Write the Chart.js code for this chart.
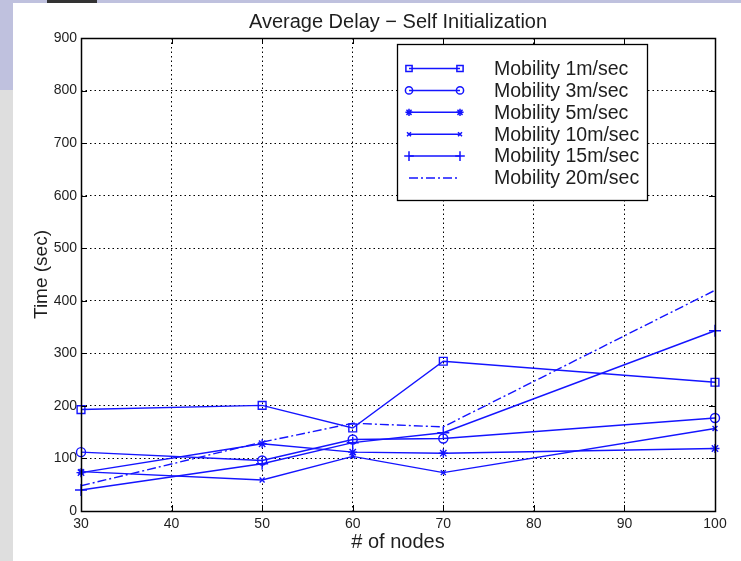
<!DOCTYPE html>
<html><head><meta charset="utf-8">
<script src="https://cdn.jsdelivr.net/npm/chart.js@4.4.0/dist/chart.umd.min.js"></script>
<style>
html,body{margin:0;padding:0;background:#fff;}
#wrap{position:relative;width:741px;height:561px;overflow:hidden;background:#fff;}
.bg{position:absolute;}
canvas{position:absolute;left:0;top:0;}
</style></head><body>
<div id="wrap">
<div class="bg" style="left:0;top:0;width:741px;height:3px;background:#bfc1de"></div>
<div class="bg" style="left:0;top:0;width:13px;height:90px;background:#bfc1de"></div>
<div class="bg" style="left:0;top:90px;width:13px;height:471px;background:#dedede"></div>
<div class="bg" style="left:47px;top:0;width:50px;height:3px;background:#333"></div>
<canvas id="c" width="741" height="561"></canvas>
</div>
<script>
// ---- data ----
const nodes = [30, 50, 60, 70, 100];
const mob1  = [193, 201, 158, 285, 245];
const mob3  = [112, 96, 136, 138, 177];
const mob5  = [73, 128, 112, 110, 119];
const mob10 = [75, 59, 104, 73, 157];
const mob15 = [40, 90, 130, 149, 343];
const mob20 = [48, 131, 167, 160, 420];
const seriesLabels = ['Mobility 1m/sec','Mobility 3m/sec','Mobility 5m/sec','Mobility 10m/sec','Mobility 15m/sec','Mobility 20m/sec'];
const xTicks = [30, 40, 50, 60, 70, 80, 90, 100];
const yTicks = [0, 100, 200, 300, 400, 500, 600, 700, 800, 900];
const titleText = 'Average Delay \u2212 Self Initialization';
const xTitle = '# of nodes';
const yTitle = 'Time (sec)';

const FONT = '"Liberation Sans", Arial, Helvetica, sans-serif';
const BLUE = '#1414ff';
const TXT = '#1e1e1e';

const seriesValues = [mob1, mob3, mob5, mob10, mob15, mob20];
const styles = [
  {pointStyle:'rect', radius:5.5},
  {pointStyle:'circle', radius:4.5},
  {pointStyle:'star', radius:4.5},
  {pointStyle:'crossRot', radius:3.5},
  {pointStyle:'cross', radius:6},
  {pointStyle:false, radius:0, dash:[9,3,2,3]}
];

const datasets = seriesValues.map((vals, i) => ({
  label: seriesLabels[i],
  data: nodes.map((n, k) => ({x: n, y: vals[k]})),
  borderColor: BLUE,
  backgroundColor: 'rgba(0,0,0,0)',
  borderWidth: 1.4,
  borderDash: styles[i].dash || [],
  pointStyle: styles[i].pointStyle || 'circle',
  pointRadius: styles[i].radius,
  pointBorderColor: BLUE,
  pointBackgroundColor: 'rgba(0,0,0,0)',
  pointBorderWidth: 1.4,
  fill: false,
  tension: 0,
  clip: false
}));

function marker(ctx, style, r, x, y) {
  ctx.beginPath();
  if (style === 'rect') {
    const s = r * Math.SQRT1_2;
    ctx.rect(x - s, y - s, 2 * s, 2 * s);
  } else if (style === 'circle') {
    ctx.arc(x, y, r, 0, Math.PI * 2);
  } else if (style === 'cross' || style === 'star') {
    ctx.moveTo(x - r, y); ctx.lineTo(x + r, y);
    ctx.moveTo(x, y - r); ctx.lineTo(x, y + r);
    if (style === 'star') {
      const d = r * Math.SQRT1_2;
      ctx.moveTo(x - d, y - d); ctx.lineTo(x + d, y + d);
      ctx.moveTo(x - d, y + d); ctx.lineTo(x + d, y - d);
    }
  } else if (style === 'crossRot') {
    const d = r * Math.SQRT1_2;
    ctx.moveTo(x - d, y - d); ctx.lineTo(x + d, y + d);
    ctx.moveTo(x - d, y + d); ctx.lineTo(x + d, y - d);
  }
  ctx.stroke();
}

const framePlugin = {
  id: 'frame',
  afterDatasetsDraw(chart) {
    const ctx = chart.ctx;
    const a = chart.chartArea;
    const xs = chart.scales.x, ys = chart.scales.y;
    ctx.save();
    ctx.strokeStyle = '#000';
    ctx.lineWidth = 1;
    ctx.setLineDash([]);
    // inside tick marks
    ctx.beginPath();
    xTicks.forEach(v => {
      const px = Math.round(xs.getPixelForValue(v)) + 0.5;
      ctx.moveTo(px, a.bottom); ctx.lineTo(px, a.bottom - 6);
      ctx.moveTo(px, a.top); ctx.lineTo(px, a.top + 6);
    });
    yTicks.forEach(v => {
      const py = Math.round(ys.getPixelForValue(v)) + 0.5;
      ctx.moveTo(a.left, py); ctx.lineTo(a.left + 6, py);
      ctx.moveTo(a.right, py); ctx.lineTo(a.right - 6, py);
    });
    ctx.stroke();
    // box
    ctx.lineWidth = 1.5;
    ctx.strokeRect(Math.round(a.left) + 0.5, Math.round(a.top) + 0.5,
                   Math.round(a.right - a.left), Math.round(a.bottom - a.top));

    // legend
    const L = 397.5, T = 44.5, W = 250, H = 156;
    ctx.fillStyle = '#fff';
    ctx.fillRect(L, T, W, H);
    ctx.lineWidth = 1.3;
    ctx.strokeStyle = '#000';
    ctx.strokeRect(L, T, W, H);
    ctx.font = '19.5px ' + FONT;
    ctx.textBaseline = 'middle';
    ctx.textAlign = 'left';
    chart.data.datasets.forEach((ds, i) => {
      const y = 68.5 + i * 21.9;
      ctx.strokeStyle = BLUE;
      ctx.lineWidth = 1.5;
      ctx.setLineDash(styles[i].dash || []);
      ctx.beginPath();
      ctx.moveTo(409, y); ctx.lineTo(460, y);
      ctx.stroke();
      ctx.setLineDash([]);
      if (styles[i].pointStyle) {
        marker(ctx, styles[i].pointStyle, styles[i].radius * 0.8, 409, y);
        marker(ctx, styles[i].pointStyle, styles[i].radius * 0.8, 460, y);
      }
      ctx.fillStyle = TXT;
      ctx.fillText(ds.label, 494, y + 1);
    });
    ctx.restore();
  }
};

new Chart(document.getElementById('c'), {
  type: 'line',
  data: { datasets },
  options: {
    responsive: false,
    animation: false,
    devicePixelRatio: 1,
    layout: { padding: { left: 0, right: 26, top: 0, bottom: 0 } },
    plugins: {
      legend: { display: false },
      tooltip: { enabled: false },
      title: {
        display: true, text: titleText, color: TXT, fullSize: false,
        font: { family: FONT, size: 20, weight: 'normal' },
        padding: { top: 10, bottom: 4 }
      }
    },
    scales: {
      x: {
        type: 'linear', min: 30, max: 100,
        afterBuildTicks: s => { s.ticks = xTicks.map(v => ({value: v})); },
        afterFit: s => { s.height = 50; },
        ticks: { color: TXT, font: { family: FONT, size: 14 }, padding: 5, maxRotation: 0 },
        grid: { color: '#000', lineWidth: 1, drawTicks: false },
        border: { display: false, dash: [1.5, 3] },
        title: { display: true, text: xTitle, color: TXT, font: { family: FONT, size: 20 }, padding: { top: 0, bottom: 6.5 } }
      },
      y: {
        type: 'linear', min: 0, max: 900,
        afterBuildTicks: s => { s.ticks = yTicks.map(v => ({value: v})); },
        afterFit: s => { s.width = 81; },
        ticks: { color: TXT, font: { family: FONT, size: 14 }, padding: 4 },
        grid: { color: '#000', lineWidth: 1, drawTicks: false },
        border: { display: false, dash: [1.5, 3] },
        title: { display: true, text: yTitle, color: TXT, font: { family: FONT, size: 19 }, padding: { top: 30.5, bottom: 0 } }
      }
    }
  },
  plugins: [framePlugin]
});
</script>
</body></html>
